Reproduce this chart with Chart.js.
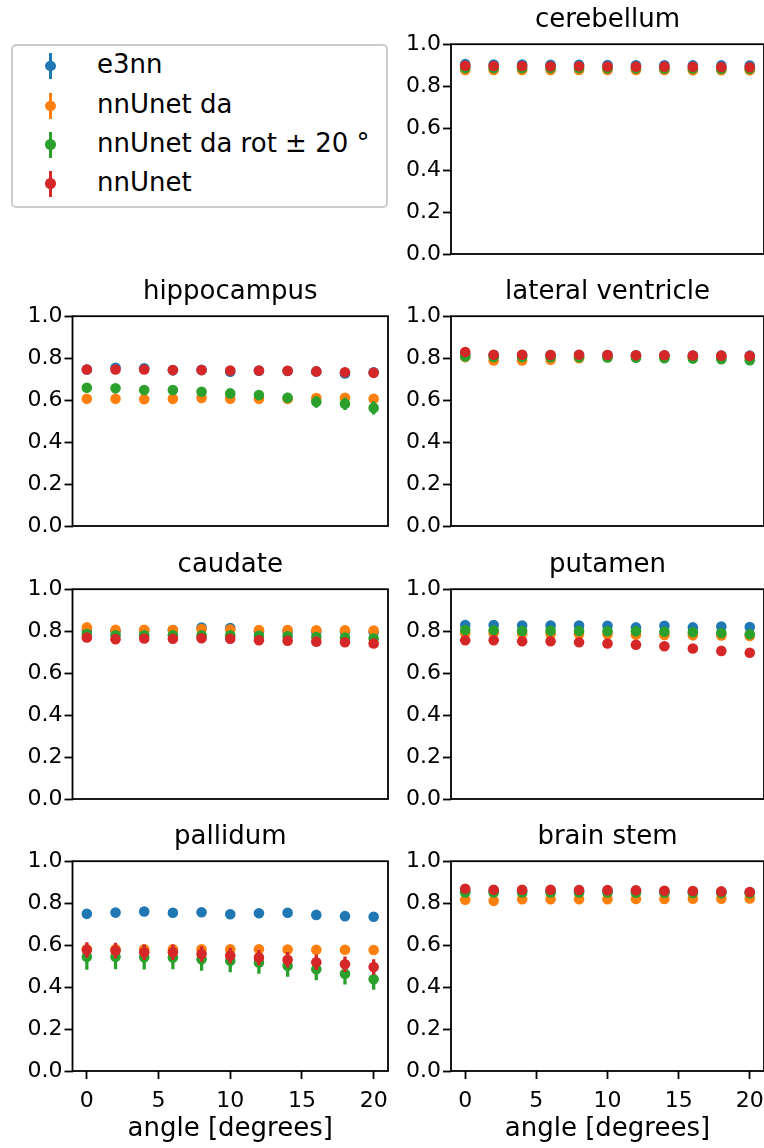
<!DOCTYPE html>
<html>
<head>
<meta charset="utf-8">
<script src="https://cdn.jsdelivr.net/npm/chart.js@4/dist/chart.umd.min.js"></script>
<style>
  body { margin: 0; background: #fff; width: 764px; height: 1148px; overflow: hidden; position: relative; font-family: "DejaVu Sans", sans-serif; }
  canvas { position: absolute; }
  #legend { position: absolute; left: 11px; top: 44px; width: 373px; height: 160px; border: 2px solid #cccccc; border-radius: 5px; background: #fff; }
  .row { position: absolute; left: 0; height: 30px; }
  .bar { position: absolute; left: 36px; width: 3.3px; height: 26px; top: 2px; }
  .dot { position: absolute; left: 32.3px; width: 10.6px; height: 10.6px; top: 9.7px; border-radius: 50%; }
  .lbl { position: absolute; left: 84px; top: -2px; font-size: 26px; line-height: 30px; white-space: nowrap; color: #000; }
</style>
</head>
<body>
<div id="legend"></div>
<script>
var angles = [0, 2, 4, 6, 8, 10, 12, 14, 16, 18, 20];
var seriesNames = ["e3nn", "nnUnet da", "nnUnet da rot \u00b1 20 \u00b0", "nnUnet"];
var colors = ["#1f77b4", "#ff7f0e", "#2ca02c", "#d62728"];

// mean dice per series: e3nn, nnUnet da, nnUnet da rot, nnUnet
var cerebellum = [
  [0.905, 0.903, 0.903, 0.902, 0.902, 0.901, 0.900, 0.900, 0.899, 0.899, 0.898],
  [0.877, 0.877, 0.877, 0.877, 0.877, 0.877, 0.877, 0.877, 0.876, 0.876, 0.876],
  [0.886, 0.886, 0.886, 0.886, 0.886, 0.885, 0.885, 0.884, 0.884, 0.883, 0.883],
  [0.897, 0.896, 0.896, 0.895, 0.895, 0.894, 0.893, 0.893, 0.892, 0.891, 0.890]
];
var cerebellumErr = [0.005, 0.005, 0.005, 0.005];

var hippocampus = [
  [0.746, 0.754, 0.752, 0.742, 0.744, 0.735, 0.740, 0.739, 0.737, 0.727, 0.733],
  [0.606, 0.606, 0.604, 0.606, 0.610, 0.607, 0.606, 0.606, 0.610, 0.611, 0.606],
  [0.659, 0.656, 0.648, 0.648, 0.640, 0.632, 0.624, 0.611, 0.592, 0.583, 0.563],
  [0.746, 0.746, 0.746, 0.743, 0.743, 0.741, 0.741, 0.740, 0.737, 0.733, 0.730]
];
var hippocampusErr = [0.008, 0.008, [0.015, 0.015, 0.016, 0.017, 0.018, 0.020, 0.022, 0.024, 0.028, 0.030, 0.032], 0.008];

var lateralVentricle = [
  [0.820, 0.815, 0.815, 0.815, 0.815, 0.815, 0.814, 0.814, 0.813, 0.813, 0.812],
  [0.805, 0.789, 0.789, 0.792, 0.800, 0.806, 0.806, 0.805, 0.805, 0.805, 0.804],
  [0.808, 0.805, 0.805, 0.804, 0.804, 0.803, 0.802, 0.800, 0.798, 0.795, 0.790],
  [0.829, 0.816, 0.816, 0.815, 0.816, 0.815, 0.814, 0.814, 0.813, 0.812, 0.810]
];
var lateralVentricleErr = [0.01, [0.015, 0.02, 0.02, 0.015, 0.01, 0.01, 0.01, 0.01, 0.01, 0.01, 0.01], 0.01, 0.01];

var caudate = [
  [0.805, 0.800, 0.803, 0.805, 0.817, 0.815, 0.800, 0.798, 0.797, 0.797, 0.795],
  [0.818, 0.806, 0.806, 0.805, 0.810, 0.808, 0.805, 0.805, 0.804, 0.804, 0.803],
  [0.786, 0.780, 0.780, 0.780, 0.780, 0.780, 0.778, 0.776, 0.772, 0.769, 0.765],
  [0.770, 0.762, 0.765, 0.764, 0.766, 0.764, 0.757, 0.754, 0.750, 0.747, 0.741]
];
var caudateErr = [0.008, 0.008, 0.008, 0.008];

var putamen = [
  [0.829, 0.829, 0.827, 0.827, 0.827, 0.826, 0.818, 0.826, 0.818, 0.822, 0.820],
  [0.790, 0.790, 0.788, 0.787, 0.786, 0.785, 0.783, 0.782, 0.780, 0.779, 0.777],
  [0.805, 0.804, 0.801, 0.802, 0.801, 0.800, 0.799, 0.797, 0.795, 0.791, 0.785],
  [0.757, 0.757, 0.752, 0.752, 0.747, 0.741, 0.735, 0.728, 0.717, 0.706, 0.697]
];
var putamenErr = [0.008, 0.008, 0.008, 0.008];

var pallidum = [
  [0.749, 0.755, 0.760, 0.754, 0.757, 0.747, 0.752, 0.754, 0.744, 0.738, 0.735],
  [0.580, 0.580, 0.580, 0.580, 0.580, 0.580, 0.580, 0.579, 0.578, 0.578, 0.577],
  [0.545, 0.545, 0.542, 0.541, 0.533, 0.525, 0.517, 0.502, 0.485, 0.463, 0.437],
  [0.577, 0.574, 0.566, 0.566, 0.558, 0.550, 0.541, 0.530, 0.518, 0.509, 0.496]
];
var pallidumErr = [0.01, 0.02, [0.062, 0.060, 0.058, 0.056, 0.055, 0.054, 0.053, 0.053, 0.052, 0.051, 0.050], 0.037];

var brainStem = [
  [0.860, 0.858, 0.858, 0.858, 0.858, 0.857, 0.856, 0.855, 0.854, 0.853, 0.852],
  [0.816, 0.811, 0.819, 0.819, 0.819, 0.819, 0.820, 0.820, 0.821, 0.821, 0.822],
  [0.851, 0.851, 0.851, 0.851, 0.851, 0.851, 0.850, 0.850, 0.849, 0.848, 0.847],
  [0.869, 0.864, 0.864, 0.864, 0.863, 0.862, 0.861, 0.859, 0.858, 0.856, 0.853]
];
var brainStemErr = [0.006, 0.006, 0.006, 0.006];

var yTicks = [0, 0.2, 0.4, 0.6, 0.8, 1.0];
var xTicks = [0, 5, 10, 15, 20];

Chart.defaults.font.family = "DejaVu Sans";
Chart.defaults.color = "#000";

// legend (outside any axes)
var legend = document.getElementById("legend");
var rowTops = [5, 45, 83.5, 122.5];
for (var k = 0; k < seriesNames.length; k++) {
    var row = document.createElement("div");
    row.className = "row";
    row.style.top = rowTops[k] + "px";
    row.innerHTML = '<div class="bar" style="background:' + colors[k] + '"></div>' +
        '<div class="dot" style="background:' + colors[k] + '"></div>' +
        '<div class="lbl">' + seriesNames[k] + '</div>';
    legend.appendChild(row);
}

var boxPlugin = {
    id: "box",
    afterDatasetsDraw: function(chart) {
        var a = chart.chartArea;
        var ctx = chart.ctx;
        ctx.save();
        ctx.strokeStyle = "#000";
        ctx.lineWidth = 1.8;
        ctx.strokeRect(a.left, a.top, a.right - a.left, a.bottom - a.top);
        ctx.restore();
    }
};

function errAt(e, i) {
    return Array.isArray(e) ? e[i] : e;
}

function makePanel(title, vals, errs, left, top, w, h, yw, showX, padRight) {
    var canvas = document.createElement("canvas");
    canvas.width = w;
    canvas.height = h;
    canvas.style.left = left + "px";
    canvas.style.top = top + "px";
    canvas.style.width = w + "px";
    canvas.style.height = h + "px";
    document.body.appendChild(canvas);

    var datasets = [];
    for (var k = 0; k < 4; k++) {
        var bars = [];
        var pts = [];
        for (var i = 0; i < angles.length; i++) {
            var e = errAt(errs[k], i);
            bars.push({ x: angles[i], y: [vals[k][i] - e, vals[k][i] + e] });
            pts.push({ x: angles[i], y: vals[k][i] });
        }
        datasets.push({
            type: "bar",
            data: bars,
            backgroundColor: colors[k],
            borderWidth: 0,
            grouped: false,
            maxBarThickness: 3.3,
            order: 7 - 2 * k
        });
        datasets.push({
            type: "scatter",
            data: pts,
            backgroundColor: colors[k],
            pointRadius: 5.3,
            pointBorderWidth: 0,
            order: 6 - 2 * k
        });
    }

    var gridOpts = { display: true, offset: false, drawOnChartArea: false, drawTicks: true, tickLength: 8, tickWidth: 1.8, tickColor: "#000" };

    new Chart(canvas, {
        type: "scatter",
        data: { datasets: datasets },
        options: {
            responsive: false,
            animation: false,
            events: [],
            layout: { autoPadding: false, padding: { left: 0, right: padRight, top: 0, bottom: showX ? 0 : 16 } },
            plugins: {
                legend: { display: false },
                tooltip: { enabled: false },
                title: {
                    display: true,
                    text: title,
                    fullSize: false,
                    color: "#000",
                    font: { size: 26, weight: "normal" },
                    padding: { top: 5, bottom: 8 }
                }
            },
            scales: {
                x: {
                    type: "linear",
                    display: showX,
                    min: -1,
                    max: 21,
                    offset: false,
                    grid: gridOpts,
                    border: { display: false },
                    afterBuildTicks: function(s) { s.ticks = xTicks.map(function(v) { return { value: v }; }); },
                    ticks: { font: { size: 22 }, padding: 9, color: "#000", autoSkip: false, maxRotation: 0 },
                    title: { display: true, text: "angle [degrees]", font: { size: 26 }, color: "#000", padding: { top: 0, bottom: 3 } },
                    afterFit: function(s) { s.height = showX ? 77 : 0; s.paddingLeft = 0; s.paddingRight = 0; }
                },
                y: {
                    type: "linear",
                    min: 0,
                    max: 1,
                    grid: gridOpts,
                    border: { display: false },
                    afterBuildTicks: function(s) { s.ticks = yTicks.map(function(v) { return { value: v }; }); },
                    ticks: { font: { size: 22 }, padding: 2, color: "#000", autoSkip: false, callback: function(v) { return v.toFixed(1); } },
                    afterFit: function(s) { s.width = yw; s.paddingTop = 0; s.paddingBottom = 0; }
                }
            }
        },
        plugins: [boxPlugin]
    });
}

// left column: x 0..392, right column: x 392..764
makePanel("cerebellum", cerebellum, cerebellumErr, 392, 0, 372, 270, 59, false, 0);
makePanel("hippocampus", hippocampus, hippocampusErr, 0, 272, 392, 270, 72.5, false, 4);
makePanel("lateral ventricle", lateralVentricle, lateralVentricleErr, 392, 272, 372, 270, 59, false, 0);
makePanel("caudate", caudate, caudateErr, 0, 545, 392, 270, 72.5, false, 4);
makePanel("putamen", putamen, putamenErr, 392, 545, 372, 270, 59, false, 0);
makePanel("pallidum", pallidum, pallidumErr, 0, 817, 392, 331, 72.5, true, 4);
makePanel("brain stem", brainStem, brainStemErr, 392, 817, 372, 331, 59, true, 0);
</script>
</body>
</html>
